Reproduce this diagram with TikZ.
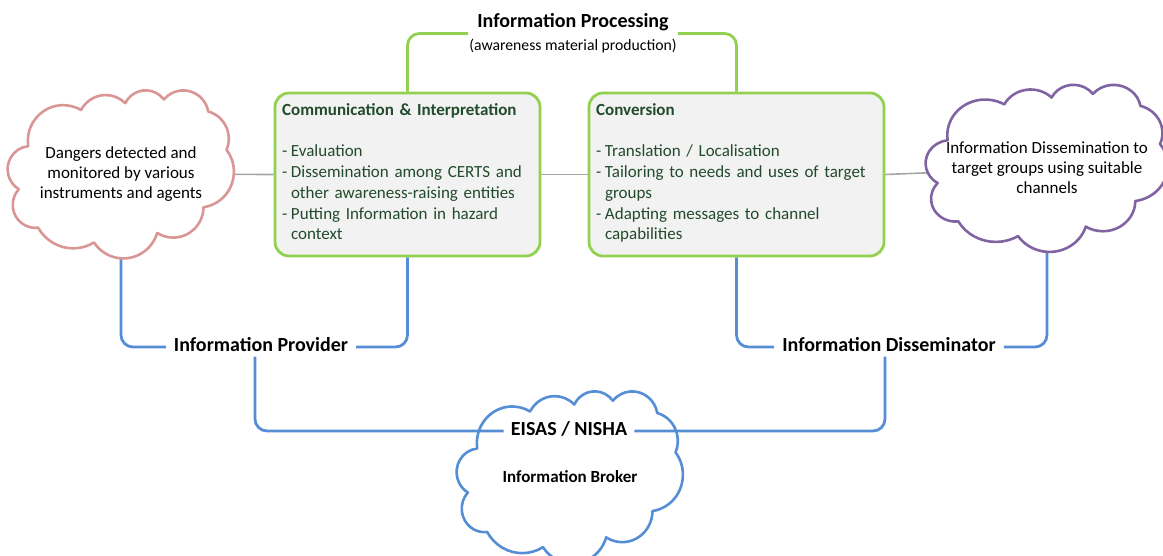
\documentclass[tikz,border=0pt]{standalone}
\usepackage{fontspec}
\setmainfont{Carlito}

\definecolor{procgreen}{HTML}{92D050}
\definecolor{boxfill}{HTML}{F2F2F2}
\definecolor{boxink}{RGB}{34,74,44}
\definecolor{roleblue}{HTML}{558ED5}
\definecolor{dangerpink}{HTML}{D99694}
\definecolor{dissempurple}{HTML}{8064A2}
\definecolor{linkgray}{HTML}{A6A6A6}

\pgfdeclarelayer{links}
\pgfdeclarelayer{cloudlayer}
\pgfsetlayers{links,cloudlayer,main}

\newcommand\itm{-\hspace{3.6pt}}
\newcommand\itmgap{\hphantom{\itm}}

\tikzset{
  % elliptic arc given by its radii and its visual start angle / sweep
  cloudarc/.style n args={4}{x radius=#1, y radius=#2,
    start angle={atan2(#1*sin(#3),#2*cos(#3))},
    delta angle={mod(atan2(#1*sin(#3+#4),#2*cos(#3+#4))-atan2(#1*sin(#3),#2*cos(#3))+720,360)}},
  cloudspot/.style={rectangle, inner sep=0, align=center,
    font=\fontsize{17}{20}\selectfont},
  cloudline/.style={line width=2.6, fill=white, line join=round},
  procbox/.style={rectangle, rounded corners=14, draw=procgreen, fill=boxfill,
    line width=2.8},
  boxtext/.style={anchor=base west, inner sep=0, text width=330, align=left,
    text=boxink, font=\fontsize{17}{20.7}\selectfont},
  rolelabel/.style={inner xsep=8, inner ysep=0, text height=14, text depth=5,
    font=\bfseries\fontsize{20}{24}\selectfont},
  greenline/.style={draw=procgreen, line width=2.8, rounded corners=12},
  blueline/.style={draw=roleblue, line width=2.8, rounded corners=12},
  grayline/.style={draw=linkgray, line width=1.6},
}

% cloud outline in a 432 x 432 frame, y pointing down
\newcommand\cloudoutline[1]{%
  \path[#1] (39,143.7)
    arc[cloudarc={67.53}{91.90}{-190.487}{123.781}]
    arc[cloudarc={53.33}{72.67}{-144.102}{89.945}]
    arc[cloudarc={43.65}{59.45}{-145.808}{99.723}]
    arc[cloudarc={48.57}{65.95}{-130.986}{117.242}]
    arc[cloudarc={53.33}{72.73}{-78.709}{109.027}]
    arc[cloudarc={67.75}{92.20}{-46.267}{130.269}]
    arc[cloudarc={57.85}{78.67}{0.625}{114.033}]
    arc[cloudarc={67.52}{92.15}{22.452}{115.173}]
    arc[cloudarc={77.20}{105.43}{66.243}{75.711}]
    arc[cloudarc={43.60}{59.18}{-274.942}{146.736}]
    arc[cloudarc={43.45}{59.45}{-246.829}{152.519}]
    -- cycle;}

\begin{document}
\begin{tikzpicture}[x=1pt, y=-1pt]
\useasboundingbox (0,0) rectangle (1163,555);
\clip (0,0) rectangle (1163,555);

% cloud nodes (text) and their outlines
\node[cloudspot, minimum width=226, minimum height=168] (dangers) at (121,174)
  {Dangers detected and\\monitored by various\\instruments and agents};
\node[cloudspot, minimum width=242, minimum height=167] (dissem) at (1047,168)
  {Information Dissemination to\\target groups using suitable\\channels};
\node[cloudspot, minimum width=226, minimum height=172,
      font=\bfseries\fontsize{17}{20}\selectfont] (broker) at (570,477)
  {Information Broker};

\begin{pgfonlayer}{cloudlayer}
  \cloudoutline{cloudline, draw=dangerpink, shift={(dangers.north west)}, xscale=226/432, yscale=168/432}
  \cloudoutline{cloudline, draw=dissempurple, shift={(dissem.north west)}, xscale=242/432, yscale=167/432}
  \cloudoutline{cloudline, draw=roleblue, shift={(broker.north west)}, xscale=226/432, yscale=172/432}
\end{pgfonlayer}

% processing boxes
\node[procbox, minimum width=265, minimum height=163] (commbox) at (407.5,174.5) {};
\node[procbox, minimum width=295, minimum height=163] (convbox) at (736.5,174.5) {};

\node[boxtext] (commtext) at (282,115.5)
  {\textbf{Communication \& Interpretation}\\[20.7pt]
   \itm Evaluation\\
   \itm Dissemination among CERTS and\\
   \itmgap other awareness-raising entities\\
   \itm Putting Information in hazard\\
   \itmgap context};
\node[boxtext] (convtext) at (596,115.5)
  {\textbf{Conversion}\\[20.7pt]
   \itm Translation / Localisation\\
   \itm Tailoring to needs and uses of target\\
   \itmgap groups\\
   \itm Adapting messages to channel\\
   \itmgap capabilities};

% group and role labels
\node[inner xsep=1, inner ysep=0, align=center] (processing) at (573,33.5)
  {{\bfseries\fontsize{20}{24}\selectfont Information Processing}\\[7pt]
   {\fontsize{15.7}{18}\selectfont (awareness material production)}};
\node[rolelabel] (provider) at (261,347) {Information Provider};
\node[rolelabel] (disseminator) at (889,347) {Information Disseminator};
\node[rolelabel, inner xsep=7] (eisas) at (569,431) {EISAS / NISHA};

\begin{pgfonlayer}{links}
  % thin links along the chain
  \draw[grayline] (commbox.west) -- (dangers.center);
  \draw[grayline] (commbox.east) -- (convbox.west);
  \draw[grayline] (convbox.east) -- (dissem.center);

  % processing bracket
  \draw[greenline] (commbox.north) |- (processing.west);
  \draw[greenline] (processing.east) -| (convbox.north);

  % role brackets ending at the cloud outlines
  \draw[blueline] (dangers.center) |- (provider.west);
  \draw[blueline] (provider.east) -| (commbox.south);
  \draw[blueline] (convbox.south) |- (disseminator.west);
  \draw[blueline] (disseminator.east) -| (dissem.center);
\end{pgfonlayer}

% broker bracket, crossing the cloud outline up to its label
\draw[blueline] ([xshift=-6pt]provider.south) |- (eisas.west);
\draw[blueline] ([xshift=-4pt]disseminator.south) |- (eisas.east);
\end{tikzpicture}
\end{document}
